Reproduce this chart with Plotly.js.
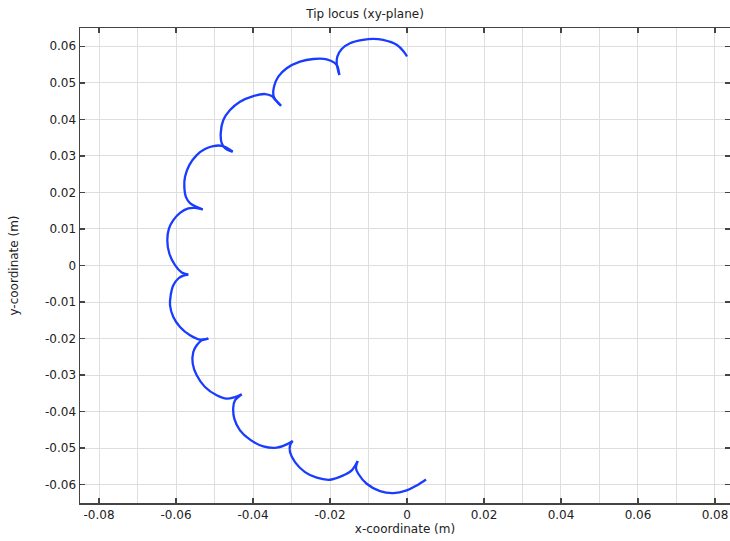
<!DOCTYPE html>
<html>
<head>
<meta charset="utf-8">
<script src="https://cdn.plot.ly/plotly-3.0.1.min.js"></script>
<style>html,body{margin:0;padding:0;background:#fff;}#chart{width:730px;height:541px;}</style>
</head>
<body>
<div id="chart"></div>
<script>
// Tip locus points (m), traced in order along the curve
const tipX = [
  0.00000,-0.00078,-0.00260,-0.00623,-0.00883,-0.01143,-0.01481,-0.01696,-0.01810,-0.01826,-0.01758,
  -0.01810,-0.01888,-0.02086,-0.02434,-0.02779,-0.03125,-0.03343,-0.03455,-0.03473,-0.03429,-0.03273,
  -0.03416,-0.03514,-0.03688,-0.03992,-0.04338,-0.04597,-0.04771,-0.04839,-0.04813,-0.04727,-0.04527,
  -0.04683,-0.04813,-0.05031,-0.05247,-0.05462,-0.05655,-0.05766,-0.05784,-0.05740,-0.05636,-0.05306,
  -0.05506,-0.05681,-0.05896,-0.06070,-0.06182,-0.06226,-0.06174,-0.06026,-0.05852,-0.05681,
  -0.05810,-0.05940,-0.06070,-0.06138,-0.06156,-0.06070,-0.05896,-0.05636,-0.05377,-0.05161,
  -0.05332,-0.05462,-0.05551,-0.05566,-0.05462,-0.05247,-0.04943,-0.04683,-0.04468,-0.04294,
  -0.04382,-0.04468,-0.04512,-0.04486,-0.04338,-0.04078,-0.03732,-0.03384,-0.03125,-0.02969,
  -0.03039,-0.03039,-0.02909,-0.02649,-0.02345,-0.02000,-0.01655,-0.01436,-0.01281,
  -0.01325,-0.01265,-0.01047,-0.00701,-0.00356,-0.00008,0.00252,0.00494
];
const tipY = [
  0.05721,0.05844,0.06036,0.06173,0.06200,0.06173,0.06082,0.05926,0.05715,0.05534,0.05214,
  0.05460,0.05551,0.05644,0.05652,0.05578,0.05397,0.05167,0.04893,0.04666,0.04556,0.04373,
  0.04529,0.04638,0.04693,0.04638,0.04482,0.04255,0.03981,0.03616,0.03351,0.03214,0.03112,
  0.03222,0.03277,0.03268,0.03186,0.03022,0.02748,0.02427,0.02153,0.01871,0.01707,0.01534,
  0.01578,0.01562,0.01441,0.01241,0.01014,0.00693,0.00329,0.00008,-0.00192,-0.00252,
  -0.00279,-0.00356,-0.00540,-0.00814,-0.01088,-0.01408,-0.01682,-0.01910,-0.02027,-0.02000,
  -0.02047,-0.02184,-0.02367,-0.02685,-0.03005,-0.03326,-0.03553,-0.03644,-0.03600,-0.03526,
  -0.03600,-0.03690,-0.03874,-0.04192,-0.04512,-0.04767,-0.04951,-0.04986,-0.04896,-0.04805,
  -0.04923,-0.05107,-0.05381,-0.05655,-0.05808,-0.05863,-0.05745,-0.05608,-0.05353,
  -0.05553,-0.05699,-0.05973,-0.06175,-0.06230,-0.06156,-0.06019,-0.05855
];
// indices of cusp points (curve split there so the cusps stay sharp)
const cuspIdx = [10, 21, 32, 43, 53, 63, 73, 83, 92];
const xTicks = [-0.08,-0.06,-0.04,-0.02,0,0.02,0.04,0.06,0.08];
const yTicks = [-0.06,-0.05,-0.04,-0.03,-0.02,-0.01,0,0.01,0.02,0.03,0.04,0.05,0.06];

const bounds = [0].concat(cuspIdx, [tipX.length - 1]);
const traces = [];
for (let i = 0; i < bounds.length - 1; i++) {
  const a = bounds[i], b = bounds[i + 1];
  traces.push({
    x: tipX.slice(a, b + 1), y: tipY.slice(a, b + 1),
    type: 'scatter', mode: 'lines', showlegend: false, hoverinfo: 'skip',
    line: {color: 'rgb(25,60,255)', width: 2.3, shape: 'spline', smoothing: 1}
  });
}
const fnt = {family: 'DejaVu Sans, sans-serif', size: 12, color: '#222'};
const ax = {
  showline: true, linecolor: '#444', linewidth: 1.5, mirror: 'ticks',
  ticks: 'inside', ticklen: 5, tickwidth: 1.5, tickcolor: '#444',
  showgrid: true, gridcolor: '#dedede', gridwidth: 1, zeroline: false,
  tickfont: fnt
};
const layout = {
  width: 730, height: 541,
  margin: {l: 80, r: 0, t: 28, b: 38},
  paper_bgcolor: '#fff', plot_bgcolor: '#fff',
  title: {text: 'Tip locus (xy-plane)', font: {family: 'DejaVu Sans, sans-serif', size: 12, color: '#222'}, x: 0.5, xanchor: 'center', y: 0.975, yanchor: 'middle'},
  xaxis: Object.assign({}, ax, {
    range: [-0.08494, 0.0839], tickvals: xTicks, ticktext: xTicks.map(v => v === 0 ? '0' : v.toFixed(2)),
    minor: {dtick: 0.01, tick0: 0, showgrid: true, gridcolor: '#dedede', gridwidth: 1, ticks: ''},
    title: {text: 'x-coordinate (m)', font: fnt, standoff: 3}
  }),
  yaxis: Object.assign({}, ax, {
    range: [-0.065, 0.065], tickvals: yTicks, ticktext: yTicks.map(v => v === 0 ? '0' : v.toFixed(2)),
    title: {text: 'y-coordinate (m)', font: fnt, standoff: 24}
  })
};
Plotly.newPlot('chart', traces, layout, {displayModeBar: false, staticPlot: true});
</script>
</body>
</html>
